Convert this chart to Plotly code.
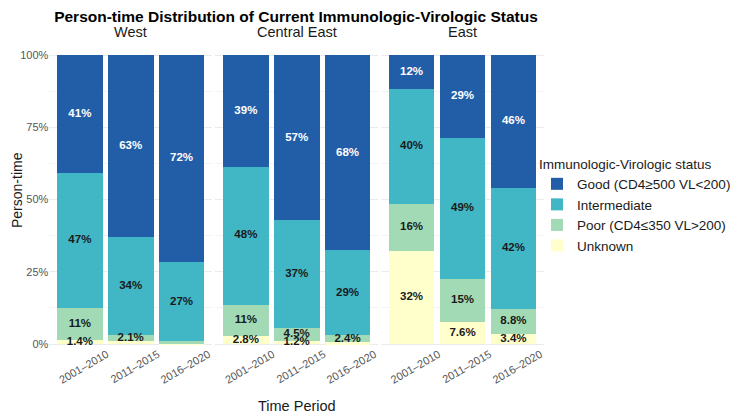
import plotly.graph_objects as go

# ---------------- data ----------------
regions = ["West", "Central East", "East"]
periods = ["2001–2010", "2011–2015", "2016–2020"]
statuses = ["Unknown", "Poor (CD4≤350 VL>200)", "Intermediate", "Good (CD4≥500 VL<200)"]

west_unknown = [1.4, 0.9, 0.3]
west_poor = [11.1, 2.1, 0.6]
west_intermediate = [46.7, 33.9, 27.4]
west_good = [40.8, 63.1, 71.7]

central_unknown = [2.8, 1.2, 0.6]
central_poor = [10.8, 4.5, 2.4]
central_intermediate = [47.8, 37.1, 29.4]
central_good = [38.6, 57.2, 67.6]

east_unknown = [32.2, 7.6, 3.4]
east_poor = [16.2, 14.9, 8.8]
east_intermediate = [40.0, 48.9, 41.8]
east_good = [11.6, 28.6, 46.0]

region_values = {
    "West": [west_unknown, west_poor, west_intermediate, west_good],
    "Central East": [central_unknown, central_poor, central_intermediate, central_good],
    "East": [east_unknown, east_poor, east_intermediate, east_good],
}

# ---------------- styles ----------------
colors = ["#ffffcc", "#a1dab4", "#41b6c4", "#225ea8"]
label_colors = ["#1a1a1a", "#1a1a1a", "#1a1a1a", "#ffffff"]
FONT = "Liberation Sans, Arial, sans-serif"
W, H = 732, 407
OFF = 8  # page body margin


def fmt(v):
    if v < 1:
        return ""
    if v >= 10:
        return f"{round(v):.0f}%"
    return f"{v:.1f}%"


def px_x(p):
    return (p - OFF) / W


def px_y(p):
    return 1 - (p - OFF) / H


x_domains = [
    [px_x(49.4), px_x(212.0)],
    [px_x(215.4), px_x(378.0)],
    [px_x(381.0), px_x(544.0)],
]
y_lo, y_hi = -0.004, 1.004
y_domain = [px_y(344 - y_lo * 289), px_y(344 - y_hi * 289)]

fig = go.Figure()
axis_names = ["x", "x2", "x3"]

for ri, region in enumerate(regions):
    vals = region_values[region]
    for si, status in enumerate(statuses):
        fig.add_trace(go.Bar(
            x=periods, y=[v / 100 for v in vals[si]],
            name=status, marker=dict(color=colors[si], line=dict(width=0)),
            width=0.9, xaxis=axis_names[ri], yaxis="y",
            showlegend=(ri == 0), hoverinfo="skip",
        ))

for ri, region in enumerate(regions):
    vals = region_values[region]
    cum = [0.0, 0.0, 0.0]
    for si, status in enumerate(statuses):
        centers = []
        for k in range(3):
            centers.append((cum[k] + vals[si][k] / 2) / 100)
            cum[k] += vals[si][k]
        fig.add_trace(go.Scatter(
            x=periods, y=centers, mode="text",
            text=[fmt(v) for v in vals[si]],
            textfont=dict(family=FONT, size=11.5, color=label_colors[si], weight="bold"),
            xaxis=axis_names[ri], yaxis="y", showlegend=False,
            hoverinfo="skip", cliponaxis=False,
        ))

xaxis_common = dict(
    type="category", categoryorder="array", categoryarray=periods,
    range=[-0.6, 2.6], showgrid=False, zeroline=False, showline=False,
    ticks="", tickangle=-30, ticklabelshift=27, automargin=False, anchor="y",
    tickfont=dict(family=FONT, size=11, color="#555555"),
)

layout = dict(
    width=W, height=H,
    margin=dict(l=0, r=0, t=0, b=0, autoexpand=False),
    paper_bgcolor="white", plot_bgcolor="white",
    barmode="stack", bargap=0.1,
    font=dict(family=FONT, color="#1a1a1a"),
    yaxis=dict(
        domain=y_domain, range=[y_lo, y_hi], anchor="x", automargin=False,
        tickvals=[0, 0.25, 0.5, 0.75, 1.0], ticktext=["0%", "25%", "50%", "75%", "100%"],
        tickfont=dict(family=FONT, size=11, color="#555555"),
        showgrid=True, gridcolor="#ebebeb", gridwidth=1,
        minor=dict(showgrid=True, gridcolor="#f3f3f3", gridwidth=0.6, tickvals=[0.125, 0.375, 0.625, 0.875]),
        zeroline=False, showline=False, ticks="",
    ),
    legend=dict(
        x=px_x(537), xanchor="left", y=px_y(206), yanchor="middle",
        traceorder="reversed", font=dict(family=FONT, size=13.5, color="#1a1a1a"),
        title=dict(text="Immunologic-Virologic status", font=dict(family=FONT, size=13.5, color="#1a1a1a")),
        bgcolor="rgba(0,0,0,0)", borderwidth=0, tracegroupgap=0,
    ),
    title=dict(
        text="<b>Person-time Distribution of Current Immunologic-Virologic Status</b>",
        x=px_x(296), xanchor="center", y=px_y(17), yanchor="middle",
        font=dict(family=FONT, size=15.5, color="#000000"),
    ),
)
for i, an in enumerate(axis_names):
    key = "xaxis" if i == 0 else f"xaxis{i + 1}"
    layout[key] = dict(xaxis_common, domain=x_domains[i])

fig.update_layout(**layout)

annotations = []
for i, region in enumerate(regions):
    xr = "x domain" if i == 0 else f"x{i + 1} domain"
    annotations.append(dict(
        text=region, xref=xr, x=0.5, xanchor="center",
        yref="paper", y=px_y(32), yanchor="middle", showarrow=False,
        font=dict(family=FONT, size=14.5, color="#1a1a1a"),
    ))
annotations.append(dict(
    text="Time Period", xref="paper", x=px_x(297), xanchor="center",
    yref="paper", y=px_y(406), yanchor="middle", showarrow=False,
    font=dict(family=FONT, size=14.5, color="#1a1a1a"),
))
annotations.append(dict(
    text="Person-time", xref="paper", x=px_x(17), xanchor="center",
    yref="paper", y=px_y(190), yanchor="middle", showarrow=False, textangle=-90,
    font=dict(family=FONT, size=14, color="#1a1a1a"),
))
fig.update_layout(annotations=annotations)

fig.write_html("out.html")
